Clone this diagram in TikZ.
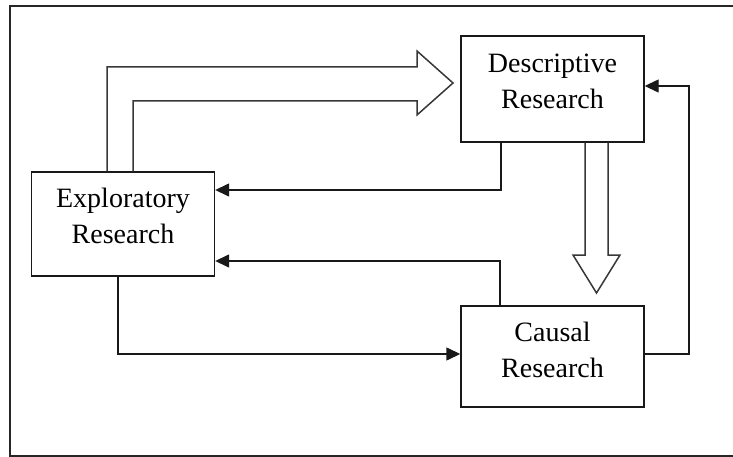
\documentclass[tikz,border=0pt]{standalone}
\usepackage{fontspec}
\setmainfont{Liberation Serif}
\usetikzlibrary{arrows.meta}
\begin{document}
\begin{tikzpicture}[x=1pt,y=-1pt,
  box/.style={draw=black!90,line width=1.4pt,fill=white,minimum width=183pt,inner sep=0pt},
  lbl/.style={font=\fontsize{28}{36}\selectfont,align=center,inner sep=0pt},
  link/.style={draw=black!90,line width=1.4pt,-{Triangle[length=14pt,width=13pt]}},
  hollow/.style={draw=black!78,line width=1.5pt,line join=miter}]
\useasboundingbox (0,0) rectangle (733,457);
\clip (0,0) rectangle (733,457);
\fill[white] (0,0) rectangle (733,457);
% outer frame
\draw[black!85,line width=1.6pt] (10,6) rectangle (760,456);

% the three stages
\node[box,minimum height=104pt] (expl) at (123,224) {};
\node[box,minimum height=106pt] (desc) at (552.5,89) {};
\node[box,minimum height=101pt] (caus) at (552.5,356.5) {};
\node[lbl] (explT) at ([yshift=8pt]expl.center) {Exploratory\\Research};
\node[lbl] (descT) at ([yshift=8pt]desc.center) {Descriptive\\Research};
\node[lbl] (causT) at ([yshift=7pt]caus.center) {Causal\\Research};

% broad arrow: exploratory -> descriptive
\coordinate (ha) at (107,67);
\coordinate (hb) at (133,101);
\draw[hollow] (expl.north -| ha) -- (ha) -- (417,67) -- (417,51) -- (453,83)
  -- (417,115) -- (417,101) -- (hb) -- (expl.north -| hb);

% broad arrow: descriptive -> causal
\coordinate (va) at (585,255);
\coordinate (vb) at (608,255);
\draw[hollow] (desc.south -| va) -- (va) -- (573,255) -- (596.5,293)
  -- (620,255) -- (vb) -- (desc.south -| vb);

% feedback and forward links
\coordinate (k1) at (501,190);
\coordinate (k2) at (500,261);
\coordinate (k3) at (118,354);
\coordinate (k4) at (689,354);
\coordinate (k5) at (689,86);
\draw[link] (desc.south -| k1) -- (k1) -- (expl.east |- k1);
\draw[link] (caus.north -| k2) -- (k2) -- (expl.east |- k2);
\draw[link] (expl.south -| k3) -- (k3) -- (caus.west |- k3);
\draw[link] (caus.east |- k4) -- (k4) -- (k5) -- (desc.east |- k5);
\end{tikzpicture}
\end{document}
